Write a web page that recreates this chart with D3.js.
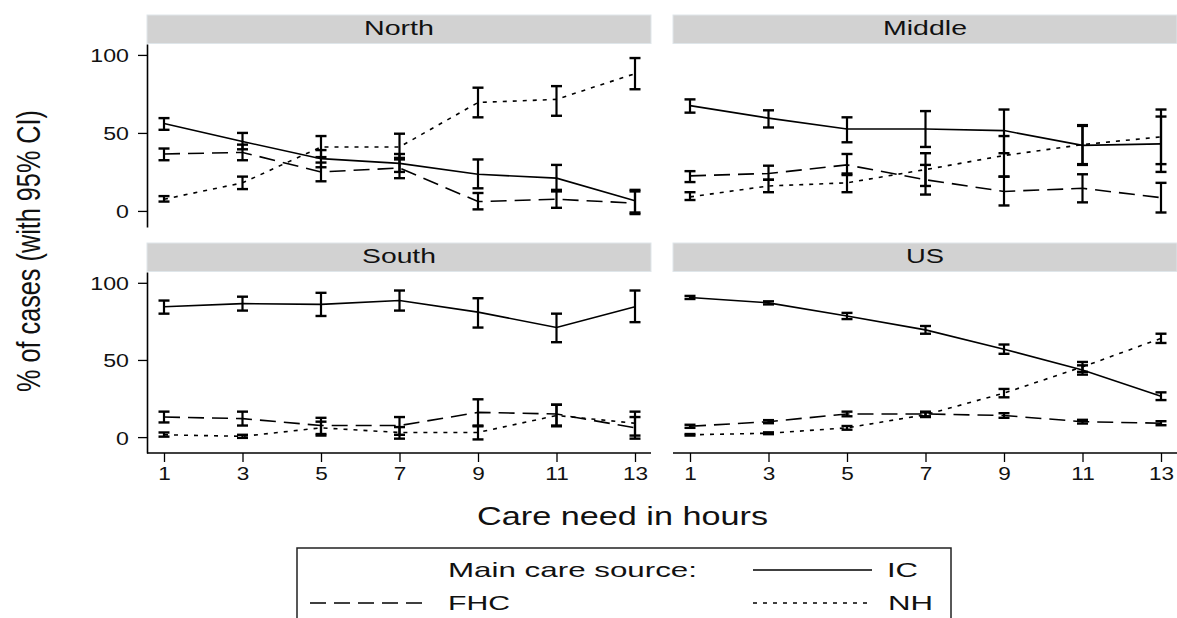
<!DOCTYPE html>
<html>
<head>
<meta charset="utf-8">
<script src="https://cdn.jsdelivr.net/npm/d3@7"></script>
<style>
  html, body { margin: 0; padding: 0; background: #fff; }
  svg { display: block; font-family: "Liberation Sans", Arial, Helvetica, sans-serif; }
</style>
</head>
<body>
<svg id="chart" width="1177" height="618"></svg>
<script>
// ---------------- DATA ----------------
const hours = [1, 3, 5, 7, 9, 11, 13];
const hourTicks = ["1", "3", "5", "7", "9", "11", "13"];
const yTicks = [0, 50, 100];
const regions = ["North", "Middle", "South", "US"];
const sources = ["IC", "FHC", "NH"];

// North
const north_IC    = [56, 44.5, 33.5, 30.5, 23.5, 21, 6.5];
const north_IC_lo = [52, 39.5, 28, 25, 14.5, 12.5, -1];
const north_IC_hi = [59.5, 50, 39, 36.5, 33, 29.5, 13.5];
const north_FHC    = [36.5, 37.5, 25, 27.5, 6, 7.5, 5];
const north_FHC_lo = [32.5, 32.5, 19, 21, 1, 2, -2];
const north_FHC_hi = [40, 42.5, 31, 34, 11.5, 13.5, 12.5];
const north_NH    = [7.5, 18, 41, 41, 69.5, 71.5, 88];
const north_NH_lo = [6, 14, 34.5, 33, 60, 61, 78];
const north_NH_hi = [9.5, 22, 48, 49.5, 79, 80, 98];

// Middle
const middle_IC    = [67.5, 59.5, 52.5, 52.5, 51.5, 42, 43];
const middle_IC_lo = [63, 53.5, 44, 41, 37, 29.5, 25];
const middle_IC_hi = [71.5, 64.5, 60, 64, 65, 55, 60.5];
const middle_FHC    = [22.5, 24, 29.5, 20, 12.5, 14.5, 8.5];
const middle_FHC_lo = [18.5, 20, 23, 10.5, 3.5, 5.5, -1];
const middle_FHC_hi = [25.5, 29, 36.5, 29.5, 22, 23.5, 18];
const middle_NH    = [9, 16, 18, 26.5, 35.5, 42.5, 47.5];
const middle_NH_lo = [7, 12, 12, 16, 22, 30, 30];
const middle_NH_hi = [12, 20, 24, 37, 48, 54.5, 65];

// South
const south_IC    = [84.5, 86.5, 86, 88.5, 81, 71, 84.5];
const south_IC_lo = [80, 82, 78.5, 82, 71, 61.5, 74.5];
const south_IC_hi = [88.5, 91, 93.5, 95, 90, 80, 95];
const south_FHC    = [13, 12, 7.5, 7.5, 16, 15, 6];
const south_FHC_lo = [9.5, 7.5, 1, 1.5, 7.5, 7.5, -1];
const south_FHC_hi = [16.5, 16.5, 12.5, 13, 24.5, 21, 13];
const south_NH    = [1.5, 0.5, 6, 3, 3, 14, 9];
const south_NH_lo = [0.3, -0.5, 2, -1, -1.5, 7, 1];
const south_NH_hi = [3, 1.5, 10, 6.5, 7, 21, 16.5];

// US
const us_IC    = [90.5, 87, 78.5, 69.5, 57, 43.5, 26.5];
const us_IC_lo = [89.5, 86, 76.5, 67, 54, 40.5, 24];
const us_IC_hi = [91.5, 88, 80.5, 72, 60, 46.5, 29];
const us_FHC    = [7, 10, 15, 15, 14, 10, 9];
const us_FHC_lo = [6, 9, 13.5, 13.5, 12.5, 8.8, 7.7];
const us_FHC_hi = [8, 11, 16.5, 16.5, 15.5, 11.2, 10.3];
const us_NH    = [1.5, 2.5, 6, 14.5, 28.5, 45.5, 64];
const us_NH_lo = [1, 1.9, 4.8, 13, 25.8, 42.3, 61];
const us_NH_hi = [2, 3.1, 7.2, 16, 31.2, 48.7, 67];

const series = {
  North:  { IC: [north_IC, north_IC_lo, north_IC_hi], FHC: [north_FHC, north_FHC_lo, north_FHC_hi], NH: [north_NH, north_NH_lo, north_NH_hi] },
  Middle: { IC: [middle_IC, middle_IC_lo, middle_IC_hi], FHC: [middle_FHC, middle_FHC_lo, middle_FHC_hi], NH: [middle_NH, middle_NH_lo, middle_NH_hi] },
  South:  { IC: [south_IC, south_IC_lo, south_IC_hi], FHC: [south_FHC, south_FHC_lo, south_FHC_hi], NH: [south_NH, south_NH_lo, south_NH_hi] },
  US:     { IC: [us_IC, us_IC_lo, us_IC_hi], FHC: [us_FHC, us_FHC_lo, us_FHC_hi], NH: [us_NH, us_NH_lo, us_NH_hi] }
};

// ---------------- LAYOUT ----------------
const dashFor = { IC: null, FHC: "16,8", NH: "4,6" };
const colX0 = [147, 673], colX1 = [651, 1177];
const rowStripTop = [15, 243], rowPlotTop = [44, 272], rowPlotBottom = [227, 453];
const yDomain = [-10.3, 107];
const SX = 1.22; // horizontal stretch of tick labels

const svg = d3.select("#chart");

regions.forEach((reg, i) => {
  const col = i % 2, row = Math.floor(i / 2);
  const x0 = colX0[col], x1 = colX1[col];
  const x = d3.scaleLinear().domain([1, 13]).range([x0 + 17, x1 - 16]);
  const y = d3.scaleLinear().domain(yDomain).range([rowPlotBottom[row], rowPlotTop[row]]);
  const g = svg.append("g");

  // strip
  g.append("rect")
    .attr("x", x0).attr("y", rowStripTop[row])
    .attr("width", x1 - x0).attr("height", rowPlotTop[row] - rowStripTop[row] - 0.5)
    .attr("fill", "#d2d2d2").attr("stroke", "#dfe6ea").attr("stroke-width", 1);
  const stripLen = { North: 70, Middle: 84, South: 74, US: 38 }[reg];
  g.append("text")
    .attr("x", (x0 + x1) / 2 - stripLen / 2)
    .attr("y", rowStripTop[row] + 19.5)
    .attr("font-size", 21)
    .attr("textLength", stripLen).attr("lengthAdjust", "spacingAndGlyphs")
    .attr("fill", "#111")
    .text(reg);

  // y axis (left column only)
  if (col === 0) {
    const ya = g.append("g").attr("transform", `translate(${x0},0)`)
      .call(d3.axisLeft(y).tickValues(yTicks).tickSize(9).tickSizeOuter(0));
    ya.select(".domain").attr("stroke", "#000").attr("stroke-width", 1.6);
    ya.selectAll(".tick line").attr("stroke", "#000").attr("stroke-width", 1.3);
    ya.selectAll(".tick text")
      .attr("x", null).attr("dy", null)
      .attr("transform", `translate(-18,7) scale(${SX},1)`)
      .attr("font-size", 19).attr("font-family", null).attr("fill", "#111");
    ya.attr("font-family", null);
  }
  // x axis (bottom row only)
  if (row === 1) {
    const xa = g.append("g").attr("transform", `translate(0,${rowPlotBottom[row]})`)
      .call(d3.axisBottom(x).tickValues(hours).tickFormat((d, k) => hourTicks[k]).tickSize(9).tickSizeOuter(0));
    xa.select(".domain").remove();
    xa.append("line").attr("x1", x0).attr("x2", x1).attr("y1", 0).attr("y2", 0)
      .attr("stroke", "#000").attr("stroke-width", 1.6);
    xa.selectAll(".tick line").attr("stroke", "#000").attr("stroke-width", 1.3);
    xa.selectAll(".tick text")
      .attr("y", null).attr("dy", null)
      .attr("transform", `translate(0,27) scale(${SX},1)`)
      .attr("font-size", 18.5).attr("fill", "#111");
    xa.attr("font-family", null);
  }

  // series
  sources.forEach(src => {
    const [m, lo, hi] = series[reg][src];
    const pts = hours.map((h, k) => ({ h, m: m[k], lo: lo[k], hi: hi[k] }));
    const line = d3.line().x(d => x(d.h)).y(d => y(d.m));
    g.append("path").datum(pts)
      .attr("d", line)
      .attr("fill", "none").attr("stroke", "#000").attr("stroke-width", 1.6)
      .attr("stroke-dasharray", dashFor[src]);
    const eb = g.append("g");
    eb.selectAll("line.v").data(pts).join("line")
      .attr("x1", d => x(d.h)).attr("x2", d => x(d.h))
      .attr("y1", d => y(d.lo)).attr("y2", d => y(d.hi))
      .attr("stroke", "#000").attr("stroke-width", 2.2);
    eb.selectAll("line.t").data(pts).join("line")
      .attr("x1", d => x(d.h) - 5.5).attr("x2", d => x(d.h) + 5.5)
      .attr("y1", d => y(d.hi)).attr("y2", d => y(d.hi))
      .attr("stroke", "#000").attr("stroke-width", 2.4);
    eb.selectAll("line.b").data(pts).join("line")
      .attr("x1", d => x(d.h) - 5.5).attr("x2", d => x(d.h) + 5.5)
      .attr("y1", d => y(d.lo)).attr("y2", d => y(d.lo))
      .attr("stroke", "#000").attr("stroke-width", 2.4);
  });
});

// y title
svg.append("text")
  .attr("transform", "translate(40,251) scale(1.36,1) rotate(-90)")
  .attr("text-anchor", "middle")
  .attr("font-size", 25)
  .attr("textLength", 282).attr("lengthAdjust", "spacingAndGlyphs")
  .attr("fill", "#111")
  .text("% of cases (with 95% CI)");

// x title
svg.append("text")
  .attr("x", 477).attr("y", 525)
  .attr("font-size", 25)
  .attr("textLength", 291).attr("lengthAdjust", "spacingAndGlyphs")
  .attr("fill", "#111")
  .text("Care need in hours");

// legend
const lg = svg.append("g");
lg.append("rect").attr("x", 297).attr("y", 548).attr("width", 654).attr("height", 90)
  .attr("fill", "#fff").attr("stroke", "#222").attr("stroke-width", 1.5);
const legendTexts = [
  { t: "Main care source:", x: 448, y: 577, len: 249 },
  { t: "IC", x: 887, y: 577, len: 31 },
  { t: "FHC", x: 448, y: 610, len: 62 },
  { t: "NH", x: 888, y: 610, len: 45 }
];
lg.selectAll("text").data(legendTexts).join("text")
  .attr("x", d => d.x).attr("y", d => d.y)
  .attr("font-size", 21)
  .attr("textLength", d => d.len).attr("lengthAdjust", "spacingAndGlyphs")
  .attr("fill", "#111")
  .text(d => d.t);
const legendLines = [
  { src: "IC", x1: 753, x2: 872, y: 570 },
  { src: "FHC", x1: 310, x2: 428, y: 603 },
  { src: "NH", x1: 753, x2: 872, y: 603 }
];
lg.selectAll("line").data(legendLines).join("line")
  .attr("x1", d => d.x1).attr("x2", d => d.x2).attr("y1", d => d.y).attr("y2", d => d.y)
  .attr("stroke", "#000").attr("stroke-width", 1.6)
  .attr("stroke-dasharray", d => dashFor[d.src]);
</script>
</body>
</html>
